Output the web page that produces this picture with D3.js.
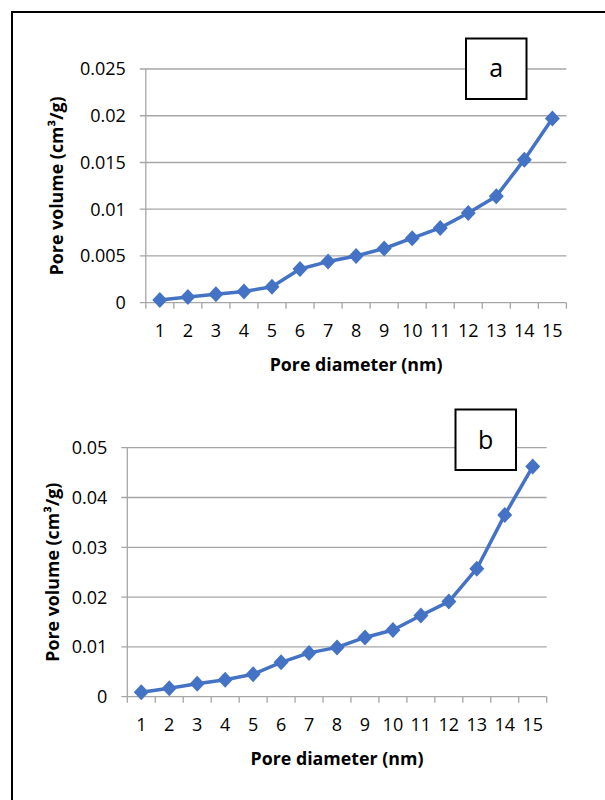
<!DOCTYPE html>
<html>
<head>
<meta charset="utf-8">
<script src="https://cdn.jsdelivr.net/npm/d3@7"></script>
<style>
  body { margin: 0; background: #fff; }
  text { font-family: 'Open Sans', sans-serif; fill: #000; }
</style>
</head>
<body>
<div class="chart"></div>
<script>
// data
const poreDiameter = [1, 2, 3, 4, 5, 6, 7, 8, 9, 10, 11, 12, 13, 14, 15];
const poreVolumeA = [0.0003, 0.0006, 0.0009, 0.0012, 0.0017, 0.0036, 0.0044, 0.005, 0.0058, 0.0069, 0.008, 0.0096, 0.0114, 0.0153, 0.0197];
const poreVolumeB = [0.0009, 0.0017, 0.0026, 0.0034, 0.0045, 0.0069, 0.0088, 0.0099, 0.0119, 0.0134, 0.0163, 0.0191, 0.0257, 0.0365, 0.0462];
const yTicksA = [0, 0.005, 0.01, 0.015, 0.02, 0.025];
const yTicksB = [0, 0.01, 0.02, 0.03, 0.04, 0.05];
const xTitle = 'Pore diameter (nm)';
const yTitle = 'Pore volume (cm³/g)';

const lineColor = '#4472C4';
const gridColor = '#a6a6a6';

const svg = d3.select('.chart')
  .append('svg')
  .attr('width', 605)
  .attr('height', 800);

// outer frame (runs off the right and bottom edges)
svg.append('rect')
  .attr('x', 12)
  .attr('y', 12)
  .attr('width', 700)
  .attr('height', 900)
  .attr('fill', 'none')
  .attr('stroke', '#000')
  .attr('stroke-width', 2);

function drawPanel(cfg) {
  const width = cfg.width;
  const height = cfg.height;

  const g = svg.append('g')
    .attr('transform', `translate(${cfg.left}, ${cfg.top})`);

  const xScale = d3.scaleBand()
    .domain(poreDiameter)
    .range([0, width]);

  const yScale = d3.scaleLinear()
    .domain([0, d3.max(cfg.yTicks)])
    .range([height, 0]);

  // gridlines
  g.selectAll('.grid')
    .data(cfg.yTicks)
    .enter()
    .append('line')
    .attr('x1', -6)
    .attr('x2', width)
    .attr('y1', d => yScale(d))
    .attr('y2', d => yScale(d))
    .attr('stroke', gridColor)
    .attr('stroke-width', 1.3);

  // y axis line
  g.append('line')
    .attr('x1', 0).attr('x2', 0)
    .attr('y1', 0).attr('y2', height)
    .attr('stroke', gridColor)
    .attr('stroke-width', 1.3);

  // x tick marks at category boundaries
  const bounds = poreDiameter.map(d => xScale(d)).concat([width]);
  g.selectAll('.xtick')
    .data(bounds)
    .enter()
    .append('line')
    .attr('x1', d => d).attr('x2', d => d)
    .attr('y1', height).attr('y2', height + 6)
    .attr('stroke', gridColor)
    .attr('stroke-width', 1.3);

  // y tick labels
  g.selectAll('.ylab')
    .data(cfg.yTicks)
    .enter()
    .append('text')
    .attr('x', -20)
    .attr('y', d => yScale(d))
    .attr('dy', '0.36em')
    .attr('text-anchor', 'end')
    .style('font-size', '18px')
    .text(d => String(d));

  // x tick labels
  g.selectAll('.xlab')
    .data(poreDiameter)
    .enter()
    .append('text')
    .attr('x', d => xScale(d) + xScale.bandwidth() / 2)
    .attr('y', height + 34)
    .attr('text-anchor', 'middle')
    .style('font-size', '18px')
    .text(d => d);

  // axis titles
  g.append('text')
    .attr('x', width / 2)
    .attr('y', height + 68)
    .attr('text-anchor', 'middle')
    .style('font-size', '17.8px')
    .style('font-weight', 'bold')
    .text(xTitle);

  g.append('text')
    .attr('transform', `translate(${cfg.yTitleX}, ${height / 2}) rotate(-90)`)
    .attr('text-anchor', 'middle')
    .style('font-size', '17.8px')
    .style('font-weight', 'bold')
    .text(yTitle);

  // series
  const line = d3.line()
    .x((d, i) => xScale(poreDiameter[i]) + xScale.bandwidth() / 2)
    .y(d => yScale(d));

  g.append('path')
    .datum(cfg.values)
    .attr('d', line)
    .attr('fill', 'none')
    .attr('stroke', lineColor)
    .attr('stroke-width', 3.5)
    .attr('stroke-linejoin', 'round');

  g.selectAll('.marker')
    .data(cfg.values)
    .enter()
    .append('path')
    .attr('transform', (d, i) => `translate(${xScale(poreDiameter[i]) + xScale.bandwidth() / 2}, ${yScale(d)})`)
    .attr('d', 'M0,-8L7.5,0L0,8L-7.5,0Z')
    .attr('fill', lineColor);

  // panel label box
  svg.append('rect')
    .attr('x', cfg.box[0])
    .attr('y', cfg.box[1])
    .attr('width', cfg.box[2])
    .attr('height', cfg.box[3])
    .attr('fill', '#fff')
    .attr('stroke', '#000')
    .attr('stroke-width', 2);

  svg.append('text')
    .attr('x', cfg.box[0] + cfg.box[2] / 2)
    .attr('y', cfg.labelY)
    .attr('text-anchor', 'middle')
    .style('font-size', '25px')
    .text(cfg.label);
}

drawPanel({
  label: 'a',
  values: poreVolumeA,
  yTicks: yTicksA,
  left: 145.8, top: 69, width: 420.6, height: 233.7,
  yTitleX: -82.5,
  box: [466, 38.5, 60.5, 60.5],
  labelY: 77
});

drawPanel({
  label: 'b',
  values: poreVolumeB,
  yTicks: yTicksB,
  left: 127.3, top: 447.7, width: 419.4, height: 249,
  yTitleX: -68,
  box: [455.5, 409.5, 60.5, 60.5],
  labelY: 448.5
});
</script>
</body>
</html>
